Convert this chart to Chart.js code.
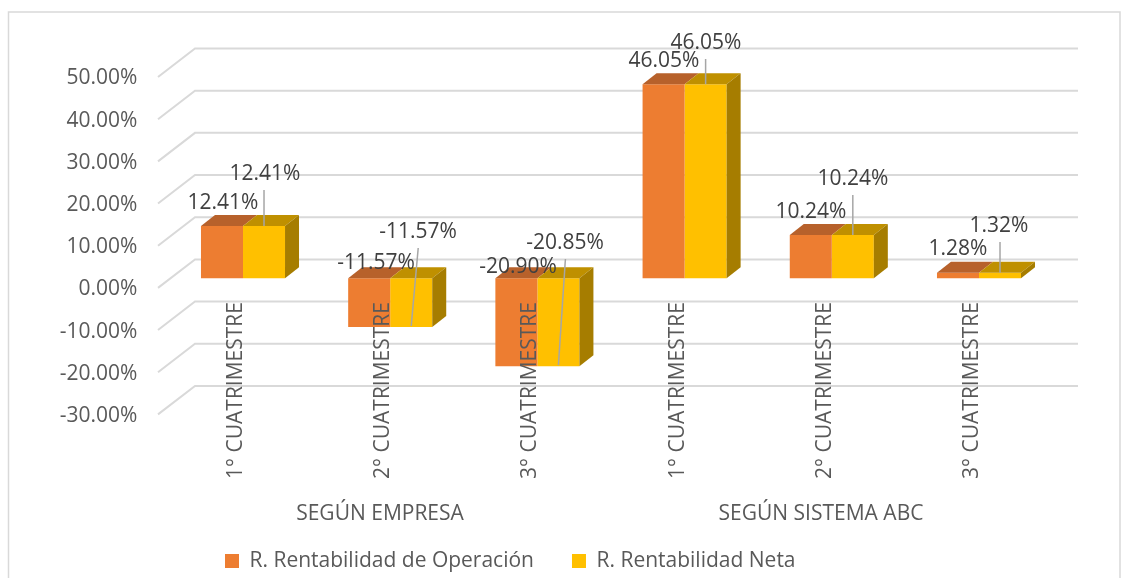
<!DOCTYPE html>
<html><head><meta charset="utf-8">
<style>html,body{margin:0;padding:0;background:#fff}#w{position:relative;width:1132px;height:578px;overflow:hidden}canvas{display:block}</style>
<script src="https://cdn.jsdelivr.net/npm/chart.js@4"></script></head>
<body><div id="w"><canvas id="c" width="1132" height="578"></canvas></div>
<script>
const categories=['1° CUATRIMESTRE','2° CUATRIMESTRE','3° CUATRIMESTRE','1° CUATRIMESTRE','2° CUATRIMESTRE','3° CUATRIMESTRE'];
const groups=['SEGÚN EMPRESA','SEGÚN SISTEMA ABC'];
const operacion=[12.41,-11.57,-20.90,46.05,10.24,1.28];
const neta=[12.41,-11.57,-20.85,46.05,10.24,1.32];
const seriesNames=['R. Rentabilidad de Operación','R. Rentabilidad Neta'];
const tickValues=[50,40,30,20,10,0,-10,-20,-30];

const FONT='"Open Sans"';
const TXT='#595959', LBL='#404040', GRID='#D9D9D9';
const DX=14, DY=-11, GX=37, GY=-28.5;
const labelPosA=[[223,203],[376,263],[518,267],[664,61],[811,212],[958,249]];
const labelPosB=[[265,174],[418,232],[565,243],[706,43],[853,179],[999,226]];
const leaderTop=[190,248,259,59,195,242];
const leaderSlant=[0,7,7,0,0,0];
const plugin3d={
 id:'fake3d',
 afterLayout(ch){
  const L=ch.legend;L.left=187;L.right=1132;L.top=512.5;L.bottom=609.5;
  const x=ch.scales.x;x.top=294;x.bottom=540;
 },
 beforeDraw(ch){
  const x=ch.scales.x,y=ch.scales.y;
  x.getLabelItems(ch.chartArea).forEach(i=>{if(!i._moved){i.options.translation[0]-=7;i._moved=true;}});
  y.getLabelItems(ch.chartArea).forEach(i=>{if(!i._moved){i.options.translation[1]+=1.5;i._moved=true;}});
 },
 beforeDatasetsDraw(ch){
  const c=ch.ctx,y=ch.scales.y;
  c.save();c.strokeStyle=GRID;c.lineWidth=2;
  tickValues.forEach(v=>{const p=y.getPixelForValue(v);
   c.beginPath();c.moveTo(158,p);c.lineTo(158+GX,p+GY);c.lineTo(1078,p+GY);c.stroke();});
  c.restore();
 },
 afterDatasetsDraw(ch){
  const c=ch.ctx,m0=ch.getDatasetMeta(0).data,m1=ch.getDatasetMeta(1).data,y2=ch.scales.y2;
  const zero=y2.getPixelForValue(0);
  c.save();
  m1.forEach((b,i)=>{
   const a=m0[i],w=b.width,l=a.x-w/2,mid=b.x-w/2,r=b.x+w/2;
   const t0=Math.min(a.y,zero),t1=Math.min(b.y,zero);
   const bot=Math.max(b.y,zero);
   c.fillStyle='#B7612B';c.beginPath();c.moveTo(l,t0);c.lineTo(l+DX,t0+DY);c.lineTo(mid+DX,t0+DY);c.lineTo(mid,t0);c.fill();
   c.fillStyle='#BF9000';c.beginPath();c.moveTo(mid,t1);c.lineTo(mid+DX,t1+DY);c.lineTo(r+DX,t1+DY);c.lineTo(r,t1);c.fill();
   c.fillStyle='#A67D00';c.beginPath();c.moveTo(r,t1);c.lineTo(r+DX,t1+DY);c.lineTo(r+DX,bot+DY);c.lineTo(r,bot);c.fill();
  });
  c.restore();
 },
 afterDraw(ch){
  const c=ch.ctx,m0=ch.getDatasetMeta(0).data,m1=ch.getDatasetMeta(1).data;
  c.save();
  c.font='21px '+FONT;c.fillStyle=TXT;c.textAlign='center';c.textBaseline='middle';
  c.fillText(groups[0],380,514);
  c.fillText(groups[1],821,514);
  c.strokeStyle='#A6A6A6';c.lineWidth=1.5;
  m1.forEach((b,i)=>{
   const endY=neta[i]<0?b.y-1:Math.min(b.y,b.base);
   c.beginPath();c.moveTo(b.x+leaderSlant[i],leaderTop[i]);c.lineTo(b.x,endY);c.stroke();
  });
  c.fillStyle=LBL;
  m0.forEach((b,i)=>c.fillText(operacion[i].toFixed(2)+'%',labelPosA[i][0],labelPosA[i][1]));
  m1.forEach((b,i)=>c.fillText(neta[i].toFixed(2)+'%',labelPosB[i][0],labelPosB[i][1]));
  c.strokeStyle=GRID;c.lineWidth=1.5;c.beginPath();c.moveTo(8.5,578);c.lineTo(8.5,12);c.lineTo(1120,12);c.lineTo(1120,578);c.stroke();
  c.restore();
 }
};
new Chart(document.getElementById('c'),{
 type:'bar',
 data:{labels:categories,datasets:[
  {label:seriesNames[0],data:operacion,backgroundColor:'#ED7D31',yAxisID:'y2',categoryPercentage:0.571,barPercentage:1},
  {label:seriesNames[1],data:neta,backgroundColor:'#FFC000',yAxisID:'y2',categoryPercentage:0.571,barPercentage:1}]},
 plugins:[plugin3d],
 options:{responsive:false,animation:false,
  layout:{padding:{left:0,right:79.4,top:77,bottom:0}},
  plugins:{tooltip:{enabled:false},
   legend:{position:'bottom',align:'start',labels:{boxWidth:14,boxHeight:14,padding:38,color:TXT,font:{family:FONT,size:21}}}},
  scales:{
   x:{grid:{display:false},border:{display:false},afterFit(s){s.height=94.6;},
    ticks:{autoSkip:false,minRotation:90,maxRotation:90,padding:0,z:1,color:TXT,font:{family:FONT,size:21}}},
   y:{position:'left',min:-30,max:50,afterFit(s){s.width=169.4;},grid:{display:false,drawTicks:false},border:{display:false},
    afterBuildTicks(s){s.ticks=tickValues.map(v=>({value:v}));},
    ticks:{padding:32,color:TXT,font:{family:FONT,size:21},callback:v=>v.toFixed(2)+'%'}},
   y2:{display:false,min:-32.3,max:47.75}
  }}
});
</script></body></html>
